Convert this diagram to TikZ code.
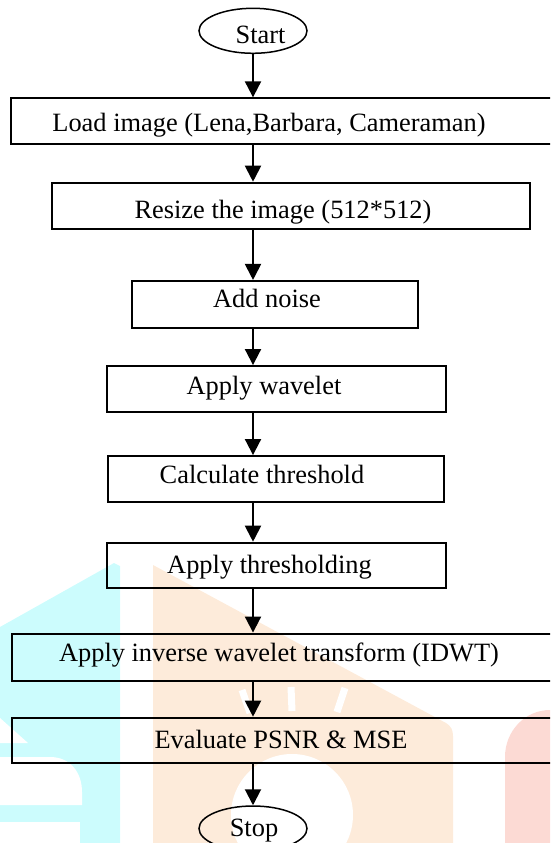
\documentclass[tikz,border=0pt]{standalone}
\usepackage{fontspec}
\setmainfont{Liberation Serif}
\usetikzlibrary{shapes.geometric,arrows.meta}

\definecolor{wmcyan}{RGB}{204,252,253}
\definecolor{wmorange}{RGB}{253,235,218}
\definecolor{wmred}{RGB}{252,218,212}

% shift a label sideways (#1) and up (#2) inside its frame
\newcommand\flowtext[3]{\kern#1pt\raisebox{#2pt}{#3}}

\begin{document}
\begin{tikzpicture}[x=1pt,y=-1pt,
  every node/.style={font=\fontsize{26.4}{30}\selectfont, text height=17.4pt,
                     text depth=0pt, inner sep=0pt},
  stepbox/.style={draw, rectangle, line width=2pt},
  terminal/.style={draw, ellipse, line width=1.5pt,
                   minimum width=108pt, minimum height=45pt},
  flow/.style={line width=2pt, -{Triangle[width=16pt,length=16pt]}}]

\useasboundingbox (0,0) rectangle (550,843);
\clip (0,0) rectangle (550,843);

% faint logo in the background
\fill[wmcyan] (0,627) -- (114,563) -- (120,566) -- (120,843) -- (0,843) -- cycle;
\fill[white] (0,718) -- (28,743) -- (0,743) -- cycle;
\fill[white] (0,757) -- (50,757) .. controls (70,757) and (82,772) .. (82,792)
             -- (82,805) -- (0,805) -- cycle;
\fill[white] (0,822) rectangle (80,843);
\fill[wmorange] (153,565) -- (446,723) .. controls (451,726) and (453,730) .. (453,736)
                -- (453,843) -- (153,843) -- cycle;
\fill[white] (292,815) circle[radius=61];
\draw[white, line width=7pt] (242,690) -- (250,713)
                            (291,687) -- (292,711)
                            (345,688) -- (337,712);
\fill[wmred] (505,843) -- (505,757) .. controls (505,731) and (525,710) .. (550,710)
             -- (550,843) -- cycle;

% flowchart
\node[terminal] (start) at (253,30.8) {\flowtext{15}{-3.9}{Start}};
\node[stepbox, minimum width=550pt, minimum height=45.7pt] (load) at (286,121.2)
  {\flowtext{-34}{-1.9}{Load image (Lena,Barbara, Cameraman)}};
\node[stepbox, minimum width=478pt, minimum height=46.6pt] (resize) at (291,206)
  {\flowtext{-16}{-3.7}{Resize the image (512*512)}};
\node[stepbox, minimum width=286pt, minimum height=46.7pt] (noise) at (275,304.3)
  {\flowtext{-16}{5.6}{Add noise}};
\node[stepbox, minimum width=339pt, minimum height=46.3pt] (wavelet) at (276.5,389.2)
  {\flowtext{-25}{3.8}{Apply wavelet}};
\node[stepbox, minimum width=336pt, minimum height=46.3pt] (calc) at (276,479.2)
  {\flowtext{-28}{4.5}{Calculate threshold}};
\node[stepbox, minimum width=339pt, minimum height=45.6pt] (thresh) at (276.5,565.5)
  {\flowtext{-14}{0.8}{Apply thresholding}};
\node[stepbox, minimum width=548.4pt, minimum height=47.5pt] (idwt) at (285.8,657.3)
  {\flowtext{-13.6}{4.2}{Apply inverse wavelet transform (IDWT)}};
\node[stepbox, minimum width=548.4pt, minimum height=45.6pt] (eval) at (285.8,740.5)
  {\flowtext{-9.6}{0.8}{Evaluate PSNR \& MSE}};
\node[terminal] (stop) at (253,828.5) {\flowtext{2}{0.4}{Stop}};

\draw[flow] (start) -- (load.north -| start);
\draw[flow] (load.south -| start) -- (resize.north -| start);
\draw[flow] (resize.south -| start) -- (noise.north -| start);
\draw[flow] (noise.south -| start) -- (wavelet.north -| start);
\draw[flow] (wavelet.south -| start) -- (calc.north -| start);
\draw[flow] (calc.south -| start) -- (thresh.north -| start);
\draw[flow] (thresh.south -| start) -- (idwt.north -| start);
\draw[flow] (idwt.south -| start) -- (eval.north -| start);
\draw[flow] (eval.south -| start) -- (stop);
\end{tikzpicture}
\end{document}
